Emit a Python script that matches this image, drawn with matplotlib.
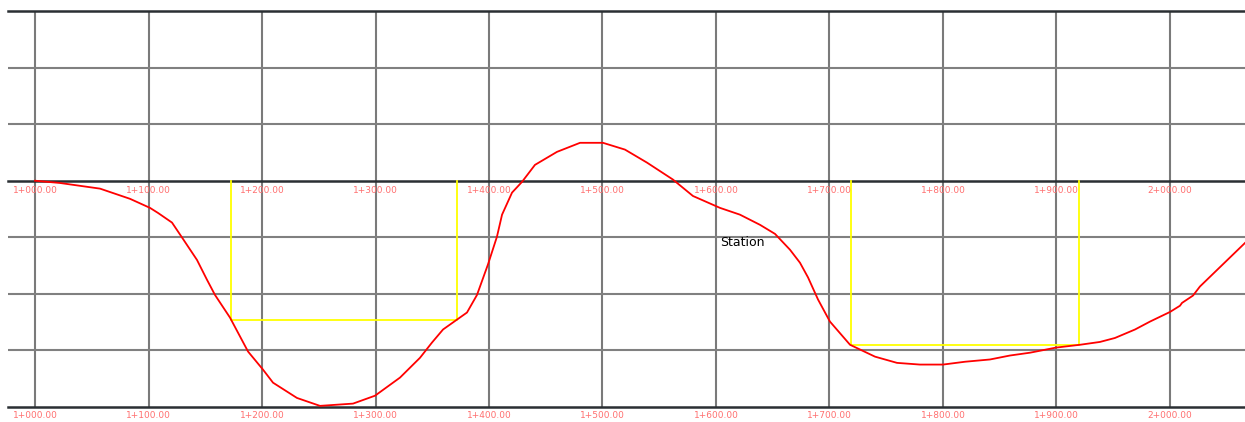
import matplotlib
matplotlib.use("Agg")
import matplotlib.pyplot as plt

# profile chainage (m past 1+000) and elevation offset
station = [0, 22, 39.6, 57.3, 83.7, 101.3, 108.4, 120.7, 130.4, 142.7, 151.5, 158.6,
           171.8, 187.7, 200.9, 209.7, 230.8, 251.1, 280.2, 299.6, 321.6, 339.2,
           349.8, 359.5, 380.6, 389.4, 399.1, 407.0, 411.5, 420.3, 429.1, 440.5,
           459.9, 480.2, 500.4, 519.8, 539.2, 562.1, 579.7, 603.5, 621.1, 638.8,
           652.0, 665.2, 674.0, 681.1, 689.9, 700.4, 718.1, 740.1, 759.5, 779.7,
           800.0, 819.4, 841.4, 859.0, 876.7, 899.6, 920.7, 938.3, 951.5, 969.2,
           982.4, 1000.0, 1008.8, 1010.6, 1020.3, 1026.4, 1066.1]
elev = [0, -0.4, -0.9, -1.4, -3.2, -4.8, -5.7, -7.4, -10.3, -14.0, -17.5, -20.2,
        -24.2, -30.2, -33.4, -35.7, -38.4, -39.8, -39.4, -38.0, -34.8, -31.3,
        -28.6, -26.3, -23.3, -20.2, -14.8, -9.9, -6.0, -2.1, -0.2, 2.8,
        5.1, 6.7, 6.7, 5.5, 3.2, 0.2, -2.7, -4.8, -6.0, -7.8,
        -9.4, -12.2, -14.5, -17.1, -21.0, -24.9, -29.0, -31.1, -32.2, -32.5,
        -32.5, -32.0, -31.6, -30.9, -30.4, -29.5, -29.0, -28.5, -27.8, -26.3,
        -24.9, -23.2, -22.1, -21.6, -20.3, -18.7, -11.0]

# yellow boxes: (start, end, depth)
boxes = [(172.7, 371.8, -24.6), (718.9, 919.8, -29.0)]

tick_stations = [0, 100, 200, 300, 400, 500, 600, 700, 800, 900, 1000]
tick_labels = ["1+000.00", "1+100.00", "1+200.00", "1+300.00", "1+400.00",
               "1+500.00", "1+600.00", "1+700.00", "1+800.00", "1+900.00",
               "2+000.00"]
grid_elev = [30, 20, 10, 0, -10, -20, -30, -40]
bold_elev = [30, 0, -40]

W, H = 1245, 422
fig = plt.figure(figsize=(W / 100, H / 100), dpi=100)
ax = fig.add_axes([8 / W, 15 / H, (W - 8) / W, (407 - 11) / H])
ax.set_xlim(-23.8, 1066.1)
ax.set_ylim(-40, 30)
for sp in ax.spines.values():
    sp.set_visible(False)
ax.set_yticks([])

# grid
for s in tick_stations:
    ax.axvline(s, color="#7a7a7a", lw=1.5, zorder=1)
for e in grid_elev:
    if e in bold_elev:
        ax.axhline(e, color="#2a2f33", lw=1.8, zorder=2, clip_on=False)
    else:
        ax.axhline(e, color="#808080", lw=1.5, zorder=1)

# yellow boxes
for a, b, d in boxes:
    ax.plot([a, a, b, b], [0, d, d, 0], color="#ffff00", lw=1.3, zorder=3)

ax.plot(station, elev, color="#ff0000", lw=1.3, zorder=4)

# chainage labels
for s, lab in zip(tick_stations, tick_labels):
    ax.text(s, -1.8, lab, color="#ff7070", fontsize=6.5, ha="center", va="center",
            zorder=5)
ax.set_xticks(tick_stations)
ax.set_xticklabels(tick_labels, color="#ff7070", fontsize=6.5)
ax.tick_params(axis="x", length=0, pad=3)

ax.text(603.5, -11.0, "Station", color="black", fontsize=9, ha="left",
        va="center", zorder=5)

fig.savefig("out.png", dpi=100)
